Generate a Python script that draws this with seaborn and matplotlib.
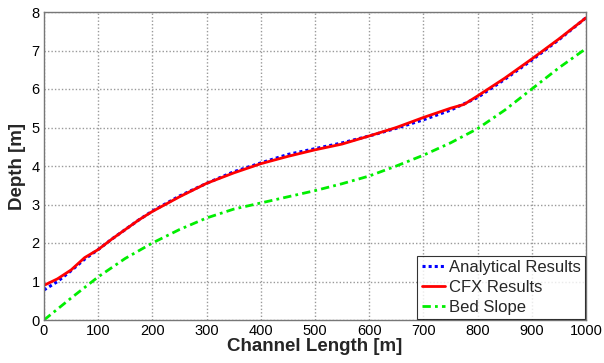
import matplotlib
matplotlib.use("Agg")
import matplotlib.pyplot as plt
import seaborn as sns
import pandas as pd

x_cfx = [0, 25, 50, 75, 100, 125, 150, 175, 200, 250, 300, 350, 400, 450, 500, 550, 600, 650, 700, 750, 775, 800, 850, 900, 950, 1000]
y_cfx = [0.9, 1.07, 1.3, 1.62, 1.83, 2.1, 2.35, 2.6, 2.82, 3.2, 3.55, 3.82, 4.06, 4.25, 4.42, 4.57, 4.78, 5.0, 5.26, 5.5, 5.6, 5.82, 6.28, 6.78, 7.3, 7.85]

x_ana = [0, 25, 50, 75, 100, 125, 150, 175, 200, 250, 300, 350, 400, 450, 500, 550, 600, 650, 700, 750, 800, 850, 900, 950, 1000]
y_ana = [0.78, 1.0, 1.28, 1.58, 1.83, 2.1, 2.35, 2.6, 2.83, 3.22, 3.55, 3.85, 4.08, 4.3, 4.45, 4.6, 4.78, 4.98, 5.2, 5.45, 5.78, 6.25, 6.75, 7.28, 7.85]

x_bed = [0, 50, 100, 150, 200, 250, 300, 350, 400, 450, 500, 550, 600, 650, 700, 750, 800, 850, 900, 950, 1000]
y_bed = [0.0, 0.57, 1.12, 1.6, 2.0, 2.35, 2.65, 2.88, 3.04, 3.2, 3.36, 3.54, 3.74, 4.0, 4.28, 4.6, 4.97, 5.45, 6.0, 6.55, 7.05]

labels = ["Analytical Results", "CFX Results", "Bed Slope"]

sns.set_style("white")
plt.rcParams['font.family'] = ['Liberation Sans', 'DejaVu Sans']

fig = plt.figure(figsize=(6.04, 3.63), dpi=100)
ax = fig.add_axes([44/604, 1-320/363, (586-44)/604, (320-12)/363])

sns.lineplot(x=x_ana, y=y_ana, ax=ax, color="#0000ff", linestyle=(0, (1, 1)), linewidth=2.2, label=labels[0])
sns.lineplot(x=x_cfx, y=y_cfx, ax=ax, color="#ff0000", linestyle="-", linewidth=2.0, label=labels[1])
sns.lineplot(x=x_bed, y=y_bed, ax=ax, color="#00ee00", linestyle=(0, (3, 1.5, 1, 1.5)), linewidth=2.0, label=labels[2])

ax.set_xlim(0, 1000)
ax.set_ylim(0, 8)
ax.set_xticks(range(0, 1001, 100))
ax.set_yticks(range(0, 9))
ax.grid(True, color="#999999", linestyle=(0, (1, 1.5)), linewidth=1.0)
for s in ax.spines.values():
    s.set_color("#777777")
    s.set_linewidth(1.0)
ax.tick_params(direction="in", length=4, color="#777777", labelsize=10.5, pad=3, labelcolor="black")
ax.set_xlabel("Channel Length [m]", fontsize=13.5, fontweight="bold", labelpad=0)
ax.set_ylabel("Depth [m]", fontsize=13.5, fontweight="bold", labelpad=4)

leg = ax.legend(loc="lower right", fontsize=12, frameon=True, fancybox=False,
                edgecolor="black", borderpad=0.25, handlelength=1.4, handletextpad=0.25,
                labelspacing=0.3, borderaxespad=0.05)
leg.get_frame().set_linewidth(0.8)

fig.savefig("out.png", dpi=100)
